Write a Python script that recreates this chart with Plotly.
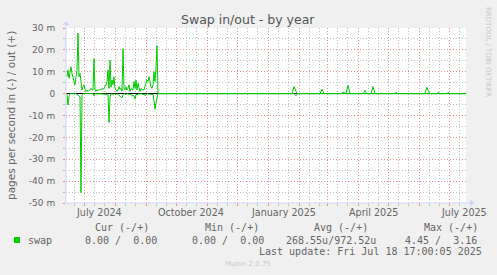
import plotly.graph_objects as go

# ---------------- data (milli-pages per second) ----------------
out_dates = [
    "2024-06-14", "2024-06-15", "2024-06-16", "2024-06-17", "2024-06-18", "2024-06-19",
    "2024-06-20", "2024-06-21", "2024-06-22", "2024-06-23", "2024-06-24", "2024-06-25",
    "2024-06-26", "2024-06-27", "2024-06-28", "2024-06-29", "2024-06-30", "2024-07-01",
    "2024-07-02", "2024-07-03", "2024-07-04", "2024-07-05", "2024-07-06", "2024-07-07",
    "2024-07-08", "2024-07-09", "2024-07-10", "2024-07-11", "2024-07-12", "2024-07-13",
    "2024-07-14", "2024-07-15", "2024-07-16", "2024-07-17", "2024-07-18", "2024-07-19",
    "2024-07-20", "2024-07-21", "2024-07-22", "2024-07-23", "2024-07-24", "2024-07-25",
    "2024-07-26", "2024-07-27", "2024-07-28", "2024-07-29", "2024-07-30", "2024-07-31",
    "2024-08-01", "2024-08-02", "2024-08-03", "2024-08-04", "2024-08-05", "2024-08-06",
    "2024-08-07", "2024-08-08", "2024-08-09", "2024-08-10", "2024-08-11", "2024-08-12",
    "2024-08-13", "2024-08-14", "2024-08-15", "2024-08-16", "2024-08-17", "2024-08-18",
    "2024-08-19", "2024-08-20", "2024-08-21", "2024-08-22", "2024-08-23", "2024-08-24",
    "2024-08-25", "2024-08-26", "2024-08-27", "2024-08-28", "2024-08-29", "2024-08-30",
    "2024-08-31", "2024-09-01", "2024-09-02", "2024-09-03", "2024-09-04", "2024-09-05",
    "2024-09-06", "2024-09-07", "2024-09-08", "2024-09-09", "2024-09-10", "2024-09-11",
    "2024-09-12", "2024-09-13", "2024-09-14",
    "2025-01-25", "2025-01-27", "2025-01-28", "2025-01-30",
    "2025-02-22", "2025-02-23", "2025-02-24", "2025-02-26",
    "2025-03-16", "2025-03-17", "2025-03-19",
    "2025-03-20", "2025-03-21", "2025-03-22", "2025-03-24",
    "2025-04-06", "2025-04-08", "2025-04-10",
    "2025-04-14", "2025-04-15", "2025-04-16", "2025-04-18",
    "2025-05-08", "2025-05-09", "2025-05-11",
    "2025-06-07", "2025-06-09", "2025-06-10", "2025-06-11", "2025-06-13",
    "2025-06-19", "2025-06-20", "2025-06-22",
    "2025-06-29", "2025-06-30", "2025-07-02",
    "2025-07-18",
]
out_vals = [
    7.7, 10.8, 7.0, 10.0, 12.3, 9.2,
    7.0, 5.5, 4.0, 7.7, 10.8, 27.7,
    7.7, 9.2, 5.0, 1.7, 3.2, 4.0,
    2.0, 1.0, 1.7, 1.0, 1.5, 1.7,
    2.4, 1.7, 1.7, 16.0, 1.7, 1.0,
    1.7, 1.7, 1.5, 2.0, 1.7, 2.4,
    2.0, 2.4, 3.2, 4.0, 5.5, 10.8,
    2.4, 15.3, 3.0, 6.2, 4.0, 7.7,
    2.4, 1.5, 1.0, 1.7, 3.2, 2.0,
    2.4, 1.0, 20.6, 2.4, 1.7, 3.2,
    1.7, 2.5, 4.0, 1.0, 2.4, 2.0,
    1.7, 5.5, 2.4, 6.2, 1.7, 4.7,
    2.4, 1.0, 2.4, 2.0, 1.7, 1.7,
    4.0, 5.0, 6.2, 5.5, 7.7, 4.7,
    3.2, 2.4, 4.0, 10.0, 5.5, 12.3,
    22.0, 0.0, 0.0,
    0.0, 3.2, 1.9, 0.0,
    0.0, 1.5, 2.0, 0.0,
    0.0, 0.7, 0.0,
    0.0, 2.0, 3.8, 0.0,
    0.0, 1.5, 0.0,
    0.0, 1.8, 3.2, 0.0,
    0.0, 0.6, 0.0,
    0.0, 2.9, 1.5, 0.5, 0.0,
    0.0, 0.6, 0.0,
    0.0, 0.6, 0.0,
    0.0,
]

in_dates = [
    "2024-06-14", "2024-06-15", "2024-06-16", "2024-06-17", "2024-06-23", "2024-06-25",
    "2024-06-26", "2024-06-27", "2024-06-28", "2024-06-29", "2024-06-30", "2024-07-10",
    "2024-07-11", "2024-07-12", "2024-07-24", "2024-07-25", "2024-07-26", "2024-07-27",
    "2024-07-28", "2024-07-31", "2024-08-01", "2024-08-02", "2024-08-03", "2024-08-08",
    "2024-08-09", "2024-08-10", "2024-08-12", "2024-08-13", "2024-08-20", "2024-08-21",
    "2024-08-22", "2024-08-27", "2024-09-01", "2024-09-02", "2024-09-07", "2024-09-08",
    "2024-09-09", "2024-09-10", "2024-09-11", "2024-09-12", "2024-09-13",
    "2025-01-27", "2025-01-29", "2025-01-30", "2025-07-18",
]
in_vals = [
    0.0, -5.2, -1.4, 0.0, 0.0, -0.5,
    -1.0, -1.7, -45.3, -0.5, 0.0, 0.0,
    -1.0, 0.0, -0.5, -0.3, -13.2, -1.5,
    0.0, -0.5, 0.0, -0.5, 0.0, -2.0,
    -0.5, 0.0, -0.5, 0.0, -1.0, -2.5,
    -0.5, 0.0, -0.8, 0.0, -0.5, -0.3,
    -3.0, -7.1, -4.4, -2.0, 0.0,
    0.0, -1.0, 0.0, 0.0,
]

y_ticks = [30, 20, 10, 0, -10, -20, -30, -40, -50]
y_tick_text = ["30 m", "20 m", "10 m", "0", "-10 m", "-20 m", "-30 m", "-40 m", "-50 m"]
y_minor = [25, 15, 5, -5, -15, -25, -35, -45]

month_starts = [
    "2024-07-01", "2024-08-01", "2024-09-01", "2024-10-01", "2024-11-01", "2024-12-01",
    "2025-01-01", "2025-02-01", "2025-03-01", "2025-04-01", "2025-05-01", "2025-06-01",
    "2025-07-01",
]
x_minor = [
    "2024-06-21", "2024-07-11", "2024-07-21", "2024-08-11", "2024-08-21", "2024-09-11",
    "2024-09-21", "2024-10-11", "2024-10-21", "2024-11-11", "2024-11-21", "2024-12-11",
    "2024-12-21", "2025-01-11", "2025-01-21", "2025-02-11", "2025-02-21", "2025-03-11",
    "2025-03-21", "2025-04-11", "2025-04-21", "2025-05-11", "2025-05-21", "2025-06-11",
    "2025-06-21", "2025-07-11",
]
x_label_dates = ["2024-07-16", "2024-10-16", "2025-01-16", "2025-04-16", "2025-07-16"]
x_label_text = ["July 2024", "October 2024", "January 2025", "April 2025", "July 2025"]

x_range = ["2024-06-13", "2025-07-18"]
y_range = [-50, 30]

# ---------------- layout geometry (pixels) ----------------
W, H = 497, 275
PL, PR, PT, PB = 66, 466, 28, 203


def fx(px):
    return (px - PL) / (PR - PL)


def fy(py):
    return (PB - py) / (PB - PT)


GREEN = "#00cc00"
FONT_C = "#666666"
MGRID = "rgba(225,110,110,0.75)"
GRID = "rgba(150,150,150,0.6)"
AXIS = "#cfd6f8"

fig = go.Figure()
fig.add_trace(go.Scatter(x=in_dates, y=in_vals, mode="lines",
                         line=dict(color=GREEN, width=1), showlegend=False, hoverinfo="skip"))
fig.add_trace(go.Scatter(x=out_dates, y=out_vals, mode="lines",
                         line=dict(color=GREEN, width=1), showlegend=False, hoverinfo="skip"))

fig.update_layout(
    width=W, height=H,
    margin=dict(l=PL, r=W - PR, t=PT, b=H - PB, pad=0),
    paper_bgcolor="#f0f0f0",
    plot_bgcolor="#ffffff",
    showlegend=False,
    font=dict(family="DejaVu Sans", color=FONT_C),
)

fig.update_xaxes(
    type="date", range=x_range, showline=False, zeroline=False,
    tickmode="array", tickvals=month_starts, showticklabels=False,
    showgrid=True, gridcolor=MGRID, griddash="1px,2px", gridwidth=1,
    ticks="outside", ticklen=2, tickcolor=MGRID,
    minor=dict(tickmode="array", tickvals=x_minor, showgrid=True, gridcolor=GRID,
               griddash="1px,2px", gridwidth=1, ticks="outside", ticklen=2, tickcolor=GRID),
)
fig.update_yaxes(
    range=y_range, showline=False,
    tickmode="array", tickvals=y_ticks, ticktext=y_tick_text,
    tickfont=dict(family="DejaVu Sans", size=9, color=FONT_C),
    showgrid=True, gridcolor=MGRID, griddash="1px,2px", gridwidth=1,
    ticks="outside", ticklen=2, tickcolor=MGRID, ticklabelstandoff=6,
    zeroline=True, zerolinecolor="#000000", zerolinewidth=1.2,
    minor=dict(tickmode="array", tickvals=y_minor, showgrid=True, gridcolor=GRID,
               griddash="1px,2px", gridwidth=1, ticks="outside", ticklen=2, tickcolor=GRID),
)

shapes = []
# axis lines with arrows
shapes.append(dict(type="line", xref="paper", yref="paper",
                   x0=fx(PL), y0=fy(PB), x1=fx(471), y1=fy(PB), line=dict(color=AXIS, width=1)))
shapes.append(dict(type="line", xref="paper", yref="paper",
                   x0=fx(PL), y0=fy(PB), x1=fx(PL), y1=fy(23), line=dict(color=AXIS, width=1)))
shapes.append(dict(type="path", xref="paper", yref="paper",
                   path=f"M {fx(470)} {fy(PB - 3.5)} L {fx(474)} {fy(PB)} L {fx(470)} {fy(PB + 3.5)} Z",
                   fillcolor=AXIS, line=dict(color=AXIS, width=0)))
shapes.append(dict(type="path", xref="paper", yref="paper",
                   path=f"M {fx(PL - 3.5)} {fy(25)} L {fx(PL)} {fy(21)} L {fx(PL + 3.5)} {fy(25)} Z",
                   fillcolor=AXIS, line=dict(color=AXIS, width=0)))
# legend colour box
shapes.append(dict(type="rect", xref="paper", yref="paper",
                   x0=fx(14), y0=fy(243), x1=fx(20), y1=fy(237),
                   fillcolor=GREEN, line=dict(color=GREEN, width=0)))
fig.update_layout(shapes=shapes)

MONO = "DejaVu Sans Mono"
ann = []


def txt(text, px, py, size, family="DejaVu Sans", color=FONT_C, xanchor="left", angle=0):
    ann.append(dict(text=text, xref="paper", yref="paper", x=fx(px), y=fy(py),
                    xanchor=xanchor, yanchor="middle", showarrow=False, textangle=angle,
                    font=dict(family=family, size=size, color=color), borderpad=0))


txt("Swap in/out - by year", 248, 19, 12.5, xanchor="center", color="#555555")
txt("pages per second in (-) / out (+)", 11, 116, 10.5, xanchor="center", angle=-90)
txt("RRDTOOL / TOBI OETIKER", 488, 52, 7, xanchor="center", color="#c8c8c8", angle=90)

# x-axis labels (centered mid-month)
for d, t in zip(x_label_dates, x_label_text):
    ann.append(dict(text=t, xref="x", yref="paper", x=d, y=fy(212.5), xanchor="center",
                    yanchor="middle", showarrow=False,
                    font=dict(family="DejaVu Sans", size=9.6, color=FONT_C)))

# legend / GPRINT block
txt("Cur (-/+)", 94, 227.7, 10, MONO)
txt("Min (-/+)", 204, 227.7, 10, MONO)
txt("Avg (-/+)", 313, 227.7, 10, MONO)
txt("Max (-/+)", 422.5, 227.7, 10, MONO)
txt("swap", 26.5, 240, 10, MONO)
txt("0.00 /  0.00", 84, 240, 10, MONO)
txt("0.00 /  0.00", 190.5, 240, 10, MONO)
txt("268.55u/972.52u", 285, 240, 10, MONO)
txt("4.45 /  3.16", 404, 240, 10, MONO)
txt("Last update: Fri Jul 18 17:00:05 2025", 483, 251.7, 10, MONO, xanchor="right")
txt("Munin 2.0.75", 248, 264, 7, xanchor="center", color="#c8c8c8")

fig.update_layout(annotations=ann)

fig.write_html("out.html")
